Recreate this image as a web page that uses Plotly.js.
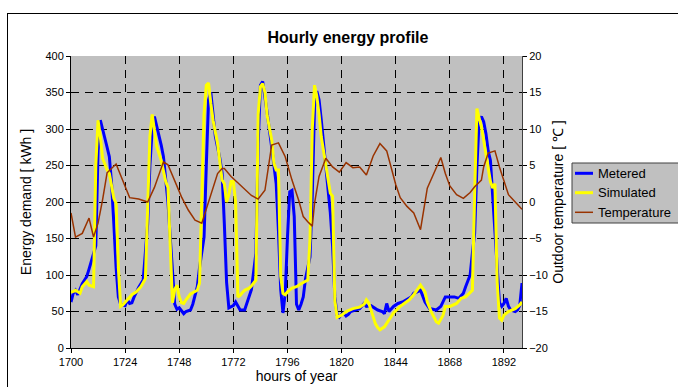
<!DOCTYPE html>
<html>
<head>
<meta charset="utf-8">
<script src="https://cdn.plot.ly/plotly-3.0.1.min.js"></script>
<style>
  html, body { margin: 0; padding: 0; background: #ffffff; overflow: hidden; width: 678px; height: 387px; }
  #frame { position: absolute; left: 7px; top: 13px; width: 720px; height: 420px; border: 1px solid #000; box-sizing: border-box; }
  #chart { position: absolute; left: 0; top: 0; width: 678px; height: 387px; }
</style>
</head>
<body>
<div id="frame"></div>
<div id="chart"></div>
<script>
// ---- data ----
const xTickVals = [1700, 1724, 1748, 1772, 1796, 1820, 1844, 1868, 1892];
const xTickText = ["1700", "1724", "1748", "1772", "1796", "1820", "1844", "1868", "1892"];
const seriesNames = ["Metered", "Simulated", "Temperature"];

const meteredHours = [1700,1701,1702,1703,1705,1707,1708,1709,1711,1712,1713,1714,1715,1716,1717,1718,1719,1720,1721,1722,1724,1725,1726,1727,1728,1730,1732,
  1733,1734,1735,1736,1737,1738,1739,1740,1741,1742,1743,1744,1745,1746,1747,1748,1749,1750,1751,1753,1754,1756,1757,1759,1760,1761,1762,1763,1764,1766,
  1767,1768,1769,1770,1772,1773,1774,1775,1777,1778,1780,1781,1782,1783,1784,1785,1786,1787,1789,1790,1791,1792,1793,1794,1795,1796,1797,1798,1799,1800,
  1801,1802,1803,1804,1805,1806,1807,1808,1809,1810,1811,1812,1814,1815,1816,1817,1818,1819,1820,1821,1822,1823,1824,1826,1828,1830,1831,1833,1835,1836,
  1838,1839,1840,1841,1843,1845,1847,1849,1851,1852,1855,1857,1859,1862,1864,1866,1868,1870,1872,1874,1875,1876,1877,1878,1879,1880,1881,1882,1883,1884,
  1885,1886,1887,1888,1889,1890,1891,1892,1893,1894,1895,1897,1898,1899,1900];
const meteredValues = [63,75,79,73,88,98,108,118,140,270,312,300,285,275,262,225,170,110,70,60,58,66,61,62,70,83,93,
  132,170,250,300,317,305,292,278,262,235,200,152,100,60,53,55,51,47,50,52,60,84,110,152,250,340,350,320,290,260,
  240,170,90,55,58,63,58,52,52,61,80,105,130,280,360,365,345,322,275,245,225,160,80,48,75,152,214,216,180,60,
  52,60,70,95,110,125,210,330,352,340,312,280,220,185,140,70,45,42,46,48,44,46,50,52,54,61,57,58,54,52,
  50,47,61,50,57,61,63,66,70,75,79,63,54,52,57,70,70,70,68,75,84,92,100,130,157,248,312,317,310,294,
  270,257,212,170,111,62,57,61,68,57,52,50,52,58,89];

const simulatedHours = [1700,1702,1704,1705,1707,1708,1710,1711,1712,1713,1714,1716,1717,1719,1720,1721,1722,1723,1725,1727,1729,1731,1733,
  1734,1735,1736,1737,1738,1740,1741,1742,1743,1744,1745,1746,1747,1748,1749,1750,1751,1753,1755,1756,1757,1758,1759,1760,1761,1762,1763,1765,1766,
  1767,1768,1769,1770,1771,1772,1773,1774,1775,1776,1777,1779,1780,1782,1783,1784,1785,1786,1787,1789,1790,1791,1792,1793,1794,1795,1796,1798,1800,
  1802,1804,1805,1806,1807,1808,1809,1810,1811,1812,1814,1815,1816,1817,1818,1820,1822,1825,1828,1830,1831,1832,1834,1835,1836,1837,1839,1841,1843,
  1846,1848,1850,1852,1854,1855,1857,1858,1860,1862,1863,1865,1866,1868,1871,1873,1875,1877,1878,1879,1880,1881,1882,1883,1885,1886,1887,1888,1889,
  1890,1891,1892,1894,1897,1899,1900];
const simulatedValues = [76,79,75,84,91,86,84,250,312,290,260,244,239,205,198,110,57,59,66,73,77,84,95,
  200,290,320,300,276,257,244,228,220,150,62,80,86,70,62,61,66,74,78,79,89,198,320,360,363,335,312,280,250,
  230,225,200,210,228,228,200,70,72,76,79,82,85,93,320,358,362,350,318,285,253,244,244,98,75,73,77,82,84,
  88,92,93,150,300,360,345,320,289,270,235,212,208,65,42,45,50,54,56,60,66,62,43,33,28,25,29,38,48,
  57,61,66,73,82,86,77,63,48,36,34,45,57,57,61,68,70,77,79,210,328,315,303,285,248,228,219,225,90,
  41,38,45,50,54,59,63];

const temperatureHours = [1700,1702,1705,1708,1710,1712,1714,1716,1720,1723,1726,1730,1734,1737,1739,1741,1743,1746,1749,1752,1755,1758,1760,1762,1765,1767,1768,
  1771,1775,1780,1783,1786,1789,1792,1795,1798,1801,1803,1805,1807,1808,1810,1813,1816,1819,1822,1825,1828,1831,1834,1837,1840,1844,1846,1849,1852,1855,
  1858,1862,1864,1866,1868,1871,1874,1877,1879,1882,1883,1885,1888,1890,1892,1894,1897,1900];
const temperatureValues = [-1.5,-4.8,-4.3,-2.2,-4.8,-2.9,0.3,4.0,5.2,3.0,0.6,0.4,0.0,2.0,3.8,5.5,5.1,3.0,0.7,-1.1,-2.5,-2.9,-1.0,1.2,3.9,4.6,4.6,
  3.5,2.3,0.9,0.4,1.6,7.8,8.1,6.2,3.0,0.2,-2.0,-2.7,-3.3,-0.2,3.5,6.0,4.8,4.1,5.4,4.7,4.8,3.7,6.3,8.0,7.0,2.4,0.6,-0.6,-1.5,-3.8,
  1.9,4.7,6.1,3.9,2.2,1.0,0.5,1.3,2.1,3.0,4.8,6.7,7.0,4.8,3.0,1.0,0.0,-1.0];

// ---- chart ----
const FONT = 'Arial, "Liberation Sans", sans-serif';
const W = 678, H = 387;
const M = { l: 71, r: 156, t: 56, b: 39 };
const plotW = W - M.l - M.r, plotH = H - M.t - M.b;
// pixel -> paper helpers (layout positions only)
const px = v => (v - M.l) / plotW;
const py = v => (H - M.b - v) / plotH;

const styles = [
  { color: '#0000ff', width: 3, axis: 'y' },
  { color: '#ffff00', width: 3, axis: 'y' },
  { color: '#993300', width: 1.5, axis: 'y2' }
];
const xs = [meteredHours, simulatedHours, temperatureHours];
const ys = [meteredValues, simulatedValues, temperatureValues];

const traces = seriesNames.map((n, i) => ({
  x: xs[i], y: ys[i], name: n, type: 'scatter', mode: 'lines',
  line: { color: styles[i].color, width: styles[i].width }, yaxis: styles[i].axis, showlegend: false
}));

const axisCommon = {
  ticks: 'outside', ticklen: 4, tickcolor: '#000', tickwidth: 1,
  showline: true, linecolor: '#000', linewidth: 1, automargin: false,
  zeroline: false, tickfont: { family: FONT, size: 11, color: '#000' }
};

// legend box drawn like the reference (outside the plot, clipped at the right edge)
const legendRows = [173.3, 192.7, 212.3];
const shapes = [{
  type: 'rect', xref: 'paper', yref: 'paper', layer: 'above',
  x0: px(572), x1: px(700), y0: py(223), y1: py(163),
  fillcolor: '#c0c0c0', line: { color: '#404040', width: 1 }
}];
const annotations = [];
seriesNames.forEach((n, i) => {
  shapes.push({ type: 'line', xref: 'paper', yref: 'paper', layer: 'above',
    x0: px(575), x1: px(593), y0: py(legendRows[i]), y1: py(legendRows[i]),
    line: { color: styles[i].color, width: styles[i].width } });
  annotations.push({ xref: 'paper', yref: 'paper', x: px(596), y: py(legendRows[i]),
    xanchor: 'left', yanchor: 'middle', showarrow: false, text: n,
    font: { family: FONT, size: 13, color: '#000' } });
});

const layout = {
  width: W, height: H,
  margin: { l: M.l, r: M.r, t: M.t, b: M.b, pad: 0, autoexpand: false },
  paper_bgcolor: 'rgba(0,0,0,0)',
  plot_bgcolor: '#c0c0c0',
  font: { family: FONT, color: '#000' },
  showlegend: false,
  title: { text: '<b>Hourly energy profile</b>', font: { family: FONT, size: 16, color: '#000' },
           x: 348 / W, xanchor: 'center', y: 1 - 37 / H, yanchor: 'middle' },
  xaxis: Object.assign({}, axisCommon, {
    range: [1700, 1900], tickmode: 'array', tickvals: xTickVals, ticktext: xTickText,
    showgrid: true, gridcolor: '#000', gridwidth: 1, griddash: '8px,6px',
    title: { text: 'hours of year', font: { family: FONT, size: 14, color: '#000' }, standoff: 1 }
  }),
  yaxis: Object.assign({}, axisCommon, {
    range: [0, 400], tickmode: 'linear', tick0: 0, dtick: 50,
    showgrid: true, gridcolor: '#000', gridwidth: 1, griddash: '8px,6px',
    title: { text: 'Energy demand [ kWh ]', font: { family: FONT, size: 14, color: '#000' }, standoff: 10 }
  }),
  yaxis2: Object.assign({}, axisCommon, {
    overlaying: 'y', side: 'right', range: [-20, 20], tickmode: 'linear', tick0: -20, dtick: 5,
    showgrid: false, linecolor: '#404040',
    title: { text: 'Outdoor temperature [ ℃ ]', font: { family: FONT, size: 14, color: '#000' }, standoff: 6 }
  }),
  shapes: shapes,
  annotations: annotations
};

Plotly.newPlot('chart', traces, layout, { staticPlot: true, displayModeBar: false });
</script>
</body>
</html>
